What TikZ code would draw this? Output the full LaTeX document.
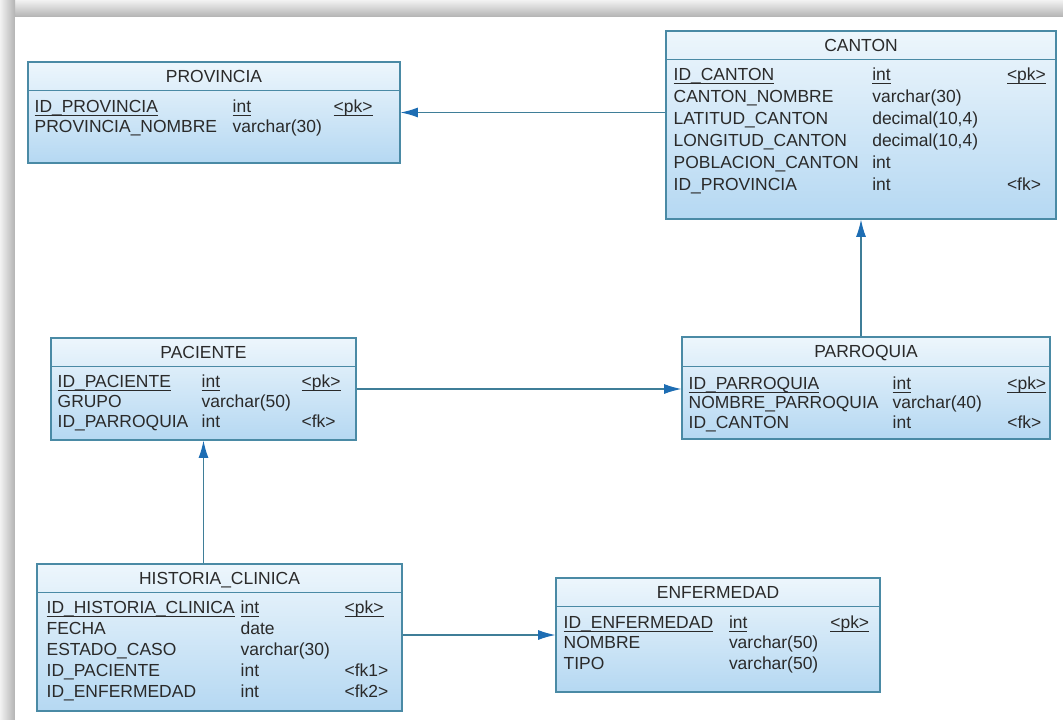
\documentclass[tikz,border=0pt]{standalone}
\usepackage{fontspec}
\setmainfont{Liberation Sans}
\usetikzlibrary{positioning,arrows.meta,fit,calc}
\definecolor{tblEdge}{HTML}{4A8AA5}
\definecolor{tblTop}{HTML}{EDF6FC}
\definecolor{tblBot}{HTML}{B5D8F2}
\definecolor{relLine}{HTML}{3F7E98}
\definecolor{relHead}{HTML}{1D6DB3}
\definecolor{txtDark}{HTML}{2A2A2A}
\newcommand{\pkfield}[1]{\leavevmode\setbox0=\hbox{#1}\rlap{\rule[-2.3pt]{\wd0}{0.7pt}}\box0}

\begin{document}
\begin{tikzpicture}[x=0.75pt, y=-0.75pt,
  font=\fontsize{13.1}{15}\selectfont, text=txtDark,
  tbl/.style   ={draw=tblEdge, line width=0.9pt, top color=tblTop,
                 bottom color=tblBot, inner sep=0pt},
  ttl/.style   ={anchor=base, inner sep=0pt},
  fields/.style={anchor=base west, inner sep=0pt,
                 execute at begin node={\renewcommand{\arraystretch}{#1}}},
  sep/.style   ={draw=tblEdge, line width=0.9pt},
  fk/.style    ={draw=relLine, line width=0.9pt,
                 -{Latex[length=13pt, width=7.5pt, color=relHead]}},
]
\useasboundingbox (0,0) rectangle (1063,720);

% page with its shadow
\shade[top color=gray!10, bottom color=gray!60] (0,0) rectangle (1063,17);
\shade[left color=gray!10, right color=gray!60] (0,0) rectangle (15,720);
\fill[white] (15,17) rectangle (1063,720);

% PROVINCIA
\node[tbl, fit={(28,62)(400,163)}] (prov) {};
\node[ttl] (prov-t) at ($(prov.north)+(0,21)$) {PROVINCIA};
\draw[sep] ($(prov.north west)+(0,29)$) -- ($(prov.north east)+(0,29)$);
\node[fields=1.0] (prov-f) at ($(prov.north west)+(7,51)$) {%
  \begin{tabular}[t]{@{}p{148.5pt}@{}p{75.75pt}@{}l@{}}
  \pkfield{ID\_PROVINCIA} & \pkfield{int} & \pkfield{<pk>}\\
  PROVINCIA\_NOMBRE & varchar(30) &
  \end{tabular}};

% CANTON
\node[tbl, fit={(666,31)(1056,219)}] (canton) {};
\node[ttl] (canton-t) at ($(canton.north)+(0,21)$) {CANTON};
\draw[sep] ($(canton.north west)+(0,29)$) -- ($(canton.north east)+(0,29)$);
\node[fields=1.1] (canton-f) at ($(canton.north west)+(8,50)$) {%
  \begin{tabular}[t]{@{}p{149pt}@{}p{101pt}@{}l@{}}
  \pkfield{ID\_CANTON} & \pkfield{int} & \pkfield{<pk>}\\
  CANTON\_NOMBRE & varchar(30) & \\
  LATITUD\_CANTON & decimal(10,4) & \\
  LONGITUD\_CANTON & decimal(10,4) & \\
  POBLACION\_CANTON & int & \\
  ID\_PROVINCIA & int & <fk>
  \end{tabular}};

% PACIENTE
\node[tbl, fit={(51,338)(356,440)}] (pac) {};
\node[ttl] (pac-t) at ($(pac.north)+(0,21)$) {PACIENTE};
\draw[sep] ($(pac.north west)+(0,29)$) -- ($(pac.north east)+(0,29)$);
\node[fields=1.0] (pac-f) at ($(pac.north west)+(7,50)$) {%
  \begin{tabular}[t]{@{}p{108pt}@{}p{75pt}@{}l@{}}
  \pkfield{ID\_PACIENTE} & \pkfield{int} & \pkfield{<pk>}\\
  GRUPO & varchar(50) & \\
  ID\_PARROQUIA & int & <fk>
  \end{tabular}};

% PARROQUIA
\node[tbl, fit={(682,337)(1050,439)}] (parr) {};
\node[ttl] (parr-t) at ($(parr.north)+(0,21)$) {PARROQUIA};
\draw[sep] ($(parr.north west)+(0,30)$) -- ($(parr.north east)+(0,30)$);
\node[fields=0.975] (parr-f) at ($(parr.north west)+(7,53)$) {%
  \begin{tabular}[t]{@{}p{153pt}@{}p{86pt}@{}l@{}}
  \pkfield{ID\_PARROQUIA} & \pkfield{int} & \pkfield{<pk>}\\
  NOMBRE\_PARROQUIA & varchar(40) & \\
  ID\_CANTON & int & <fk>
  \end{tabular}};

% HISTORIA_CLINICA
\node[tbl, fit={(37,564)(402,711)}] (hist) {};
\node[ttl] (hist-t) at ($(hist.north)+(0,21)$) {HISTORIA\_CLINICA};
\draw[sep] ($(hist.north west)+(0,29)$) -- ($(hist.north east)+(0,29)$);
\node[fields=1.05] (hist-f) at ($(hist.north west)+(10,50)$) {%
  \begin{tabular}[t]{@{}p{145.5pt}@{}p{78pt}@{}l@{}}
  \pkfield{ID\_HISTORIA\_CLINICA} & \pkfield{int} & \pkfield{<pk>}\\
  FECHA & date & \\
  ESTADO\_CASO & varchar(30) & \\
  ID\_PACIENTE & int & <fk1>\\
  ID\_ENFERMEDAD & int & <fk2>
  \end{tabular}};

% ENFERMEDAD
\node[tbl, fit={(556,578)(880,692)}] (enf) {};
\node[ttl] (enf-t) at ($(enf.north)+(0,21)$) {ENFERMEDAD};
\draw[sep] ($(enf.north west)+(0,29)$) -- ($(enf.north east)+(0,29)$);
\node[fields=1.025] (enf-f) at ($(enf.north west)+(8,51)$) {%
  \begin{tabular}[t]{@{}p{124pt}@{}p{76pt}@{}l@{}}
  \pkfield{ID\_ENFERMEDAD} & \pkfield{int} & \pkfield{<pk>}\\
  NOMBRE & varchar(50) & \\
  TIPO & varchar(50) &
  \end{tabular}};

% references
\draw[fk] (canton.west |- prov.east) -- (prov.east);
\draw[fk] (parr.north -| canton.south) -- (canton.south);
\draw[fk] (pac.east) -- (parr.west |- pac.east);
\draw[fk] (hist.north -| pac.south) -- (pac.south);
\draw[fk] (hist.east |- enf.west) -- (enf.west);

\end{tikzpicture}
\end{document}
